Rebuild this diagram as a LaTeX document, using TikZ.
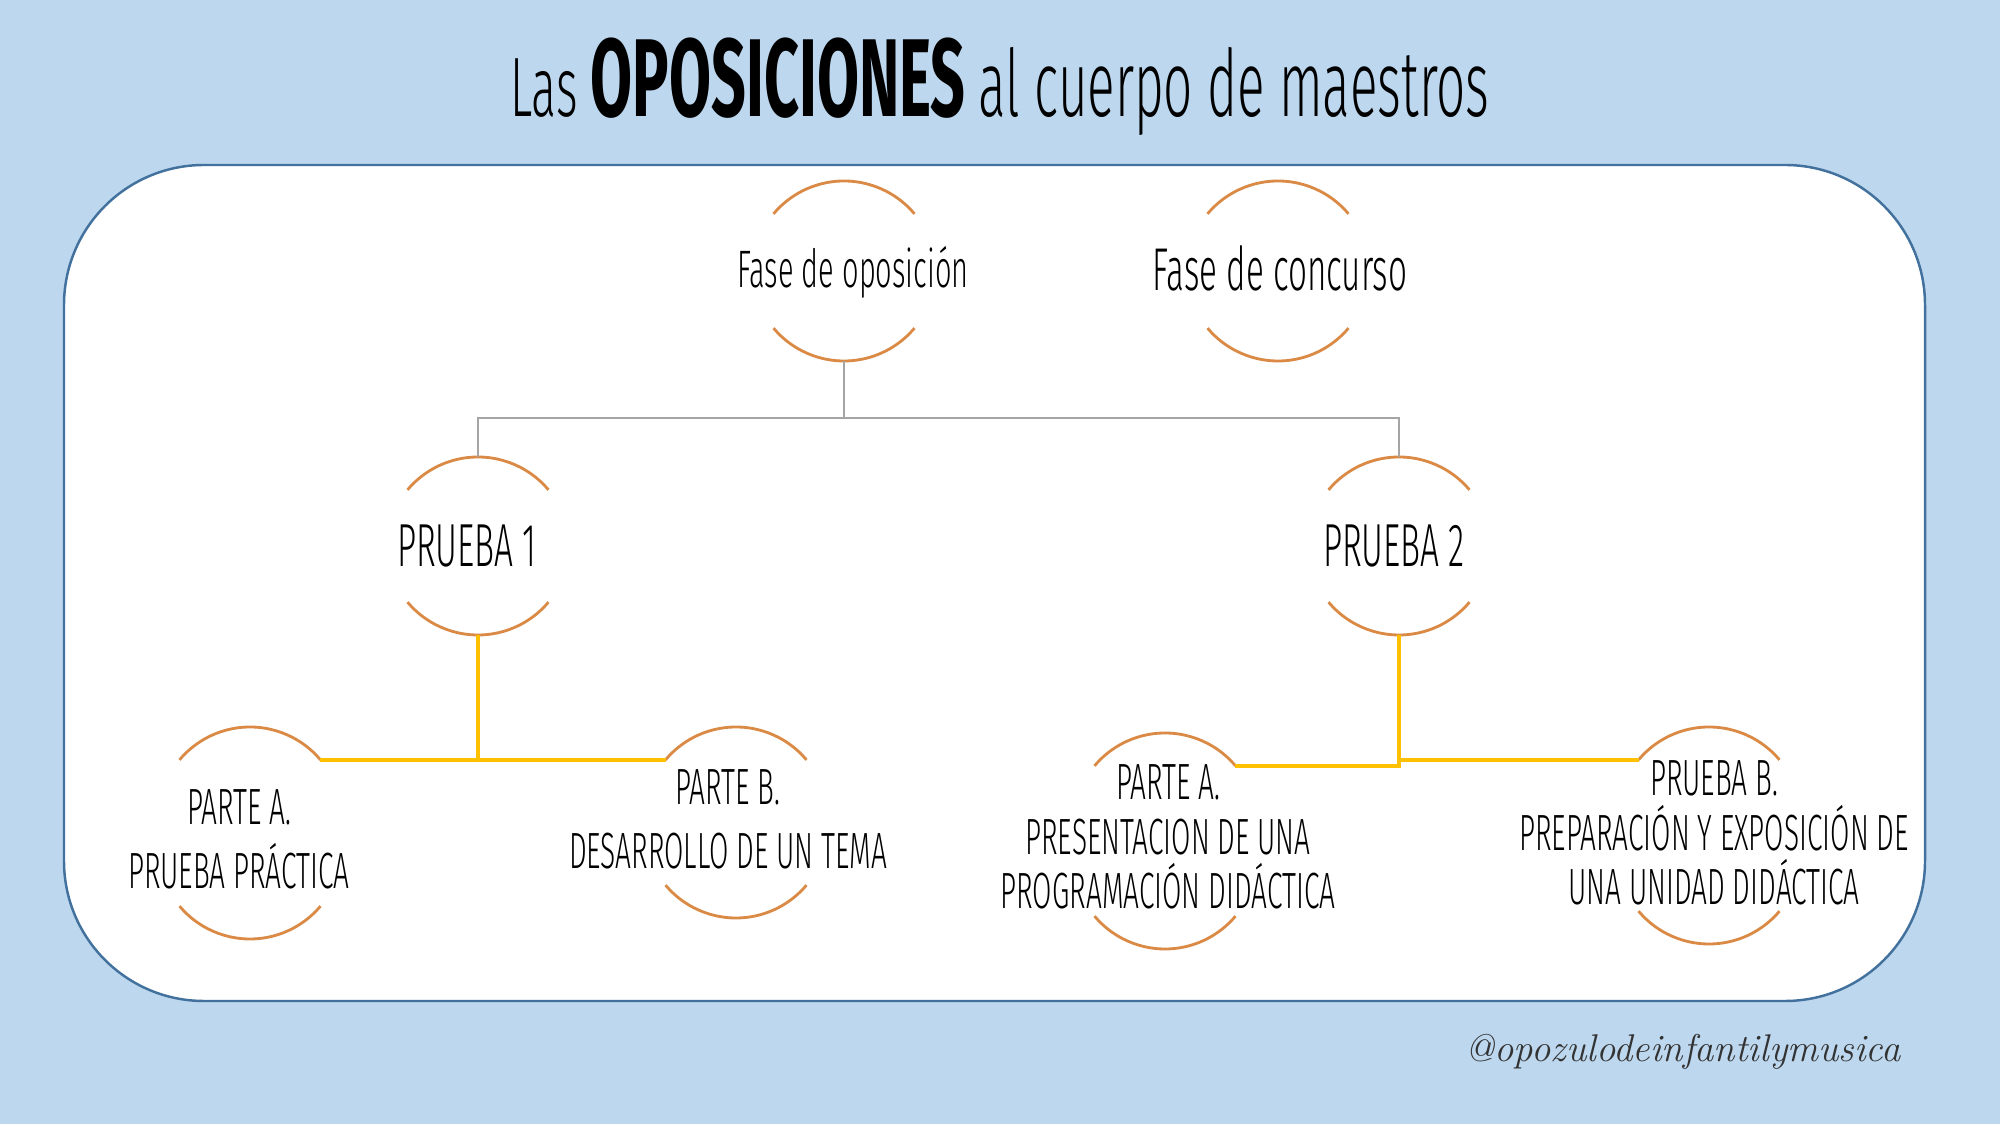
\documentclass[tikz,border=0pt]{standalone}
\usepackage{fontspec}
\usepackage{tikz}
\usepackage{xcolor}
\newfontfamily\letra[FakeStretch=0.55]{Fira Sans Light}
\newfontfamily\letranegra[FakeStretch=0.55]{Fira Sans}
\definecolor{fondo}{HTML}{BDD7EE}
\definecolor{borde}{HTML}{41719C}
\definecolor{naranja}{HTML}{DA8A45}
\definecolor{gris}{HTML}{A5A5A5}
\definecolor{amarillo}{HTML}{FFC000}
\tikzset{
	arco/.style={naranja,line width=0.8pt},
	texto/.style={align=center,text=black,font=\letra\fontsize{14.5}{15.6}\selectfont},
	unionGris/.style={gris,line width=0.6pt},
	unionAmarilla/.style={amarillo,line width=1pt}
}
\begin{document}
\begin{tikzpicture}
			\fill[fondo] (0,0) rectangle (20,-11.24);
			\useasboundingbox (0,0) rectangle (20,-11.24);
			\filldraw[borde,fill=white,line width=0.7pt,rounded corners=1.4cm] (0.64,-1.65) rectangle (19.25,-10.01);
			\node[anchor=base] (titulo) at (10,-1.17) {\letra\fontsize{24}{30}\selectfont Las {\letranegra\bfseries\fontsize{31.5}{35}\selectfont OPOSICIONES} {\fontsize{26.5}{30}\selectfont al cuerpo de maestros}};
			% arcos de cada burbuja
			\draw[arco] (8.44,-2.73) ++(40:0.92) arc (40:140:0.92);
			\draw[arco] (8.44,-2.69) ++(220:0.92) arc (220:320:0.92);
			\draw[arco] (12.78,-2.73) ++(40:0.92) arc (40:140:0.92);
			\draw[arco] (12.78,-2.69) ++(220:0.92) arc (220:320:0.92);
			\draw[arco] (4.78,-5.49) ++(40:0.92) arc (40:140:0.92);
			\draw[arco] (4.78,-5.43) ++(220:0.92) arc (220:320:0.92);
			\draw[arco] (13.99,-5.49) ++(40:0.92) arc (40:140:0.92);
			\draw[arco] (13.99,-5.43) ++(220:0.92) arc (220:320:0.92);
			\draw[arco] (2.5,-8.19) ++(40:0.92) coordinate (pa1-d) arc (40:140:0.92);
			\draw[arco] (2.5,-8.47) ++(220:0.92) arc (220:320:0.92);
			\draw[arco] (7.36,-8.19) ++(40:0.92) arc (40:140:0.92) coordinate (pb1-i);
			\draw[arco] (7.36,-8.26) ++(220:0.92) arc (220:320:0.92);
			\draw[arco] (11.65,-8.25) ++(40:0.92) coordinate (pa2-d) arc (40:140:0.92);
			\draw[arco] (11.65,-8.57) ++(220:0.92) arc (220:320:0.92);
			\draw[arco] (17.09,-8.19) ++(40:0.92) arc (40:140:0.92) coordinate (pb2-i);
			\draw[arco] (17.09,-8.52) ++(220:0.92) arc (220:320:0.92);
			\coordinate (fo-b) at (8.44,-3.61);
			\coordinate (p1-t) at (4.78,-4.57);
			\coordinate (p1-b) at (4.78,-6.35);
			\coordinate (p2-t) at (13.99,-4.57);
			\coordinate (p2-b) at (13.99,-6.35);
			% textos
			\node[texto,font=\letra\fontsize{15}{17}\selectfont] (fo) at (8.53,-2.72) {Fase de oposición};
			\node[texto,font=\letra\fontsize{17.2}{19}\selectfont] (fc) at (12.80,-2.68) {Fase de concurso};
			\node[texto,font=\letra\fontsize{17.3}{19}\selectfont] (p1) at (4.67,-5.46) {PRUEBA 1};
			\node[texto,font=\letra\fontsize{17.3}{19}\selectfont] (p2) at (13.94,-5.46) {PRUEBA 2};
			\node[texto] (pa1) at (2.39,-8.39) {PARTE A.\\[2.6pt] PRUEBA PRÁCTICA};
			\node[texto] (pb1) at (7.28,-8.19) {PARTE B.\\[2.6pt] DESARROLLO DE UN TEMA};
			\node[texto] (pa2) at (11.68,-8.37) {PARTE A.\\ PRESENTACION DE UNA\\ PROGRAMACIÓN DIDÁCTICA};
			\node[texto] (pb2) at (17.14,-8.33) {PRUEBA B.\\ PREPARACIÓN Y EXPOSICIÓN DE\\ UNA UNIDAD DIDÁCTICA};
			% uniones
			\draw[unionGris] (fo-b) -- ++(0,-0.57) coordinate (horquilla) -| (p1-t);
			\draw[unionGris] (horquilla) -| (p2-t);
			\draw[unionAmarilla] (p1-b) |- (pa1-d);
			\draw[unionAmarilla] (p1-b) |- (pb1-i);
			\draw[unionAmarilla] (p2-b) |- (pa2-d);
			\draw[unionAmarilla] (p2-b) |- (pb2-i);
			\node[text=black!80] (firma) at (16.83,-10.52) {\itshape\fontsize{11}{13}\selectfont @opozulodeinfantilymusica};
\end{tikzpicture}
\end{document}
